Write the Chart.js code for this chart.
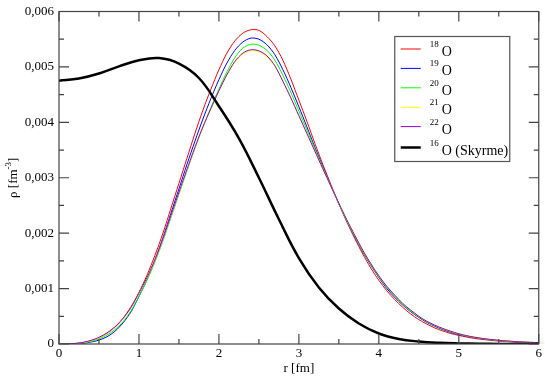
<!DOCTYPE html>
<html>
<head>
<meta charset="utf-8">
<script src="https://cdn.jsdelivr.net/npm/chart.js@4/dist/chart.umd.min.js"></script>
<style>
  html, body { margin: 0; padding: 0; background: #fff; }
  #wrap { width: 545px; height: 376px; position: relative; }
  #probe { position: absolute; left: -9999px; top: 0; font: 13px 'Liberation Serif'; }
</style>
</head>
<body>
<div id="wrap"><canvas id="rho"></canvas></div>
<span id="probe">0,006 r [fm] ρ O (Skyrme)</span>
<script>
// ── Data (densities in units of 1e-3 fm^-3) ─────────────────────
const R_GRID = [
  0.0, 0.1, 0.2, 0.3, 0.4, 0.5, 0.6, 0.7, 0.8, 0.9,
  1.0, 1.1, 1.2, 1.3, 1.4, 1.5, 1.6, 1.7, 1.8, 1.9,
  2.0, 2.1, 2.2, 2.3, 2.4, 2.5, 2.6, 2.7, 2.8, 2.9,
  3.0, 3.1, 3.2, 3.3, 3.4, 3.5, 3.6, 3.7, 3.8, 3.9,
  4.0, 4.1, 4.2, 4.3, 4.4, 4.5, 4.6, 4.7, 4.8, 4.9,
  5.0, 5.1, 5.2, 5.3, 5.4, 5.5, 5.6, 5.7, 5.8, 5.9, 6.0
];

const RHO_18O = [
  0, 0.002, 0.008, 0.025, 0.06, 0.11, 0.19, 0.30, 0.46, 0.67,
  0.93, 1.24, 1.60, 2.00, 2.45, 2.90, 3.35, 3.80, 4.22, 4.60,
  4.95, 5.25, 5.47, 5.61, 5.67, 5.66, 5.55, 5.38, 5.12, 4.78,
  4.40, 4.02, 3.62, 3.24, 2.88, 2.53, 2.20, 1.90, 1.62, 1.37,
  1.15, 0.96, 0.80, 0.66, 0.54, 0.44, 0.36, 0.29, 0.235, 0.19,
  0.155, 0.125, 0.10, 0.082, 0.066, 0.053, 0.043, 0.034, 0.027, 0.022, 0.018
];

const RHO_19O = [
  0, 0.001, 0.003, 0.012, 0.035, 0.07, 0.13, 0.23, 0.38, 0.58,
  0.86, 1.16, 1.52, 1.92, 2.36, 2.80, 3.24, 3.66, 4.06, 4.43,
  4.77, 5.07, 5.30, 5.45, 5.52, 5.50, 5.40, 5.22, 4.95, 4.63,
  4.28, 3.92, 3.55, 3.20, 2.86, 2.53, 2.22, 1.93, 1.66, 1.42,
  1.20, 1.00, 0.84, 0.70, 0.58, 0.48, 0.39, 0.32, 0.26, 0.21,
  0.17, 0.14, 0.114, 0.093, 0.076, 0.062, 0.050, 0.041, 0.033, 0.027, 0.022
];

const RHO_20O = [
  0, 0.002, 0.006, 0.018, 0.045, 0.09, 0.16, 0.26, 0.40, 0.60,
  0.86, 1.15, 1.48, 1.86, 2.28, 2.70, 3.12, 3.53, 3.91, 4.27,
  4.60, 4.91, 5.17, 5.34, 5.41, 5.39, 5.30, 5.12, 4.85, 4.54,
  4.20, 3.86, 3.52, 3.18, 2.85, 2.53, 2.22, 1.94, 1.67, 1.43,
  1.21, 1.02, 0.86, 0.71, 0.59, 0.49, 0.40, 0.33, 0.27, 0.22,
  0.18, 0.145, 0.118, 0.096, 0.079, 0.064, 0.052, 0.042, 0.034, 0.028, 0.023
];

const RHO_21O = [
  0, 0.002, 0.008, 0.026, 0.058, 0.11, 0.19, 0.30, 0.45, 0.65,
  0.91, 1.19, 1.51, 1.89, 2.31, 2.73, 3.14, 3.54, 3.91, 4.24,
  4.56, 4.85, 5.08, 5.23, 5.29, 5.27, 5.18, 5.01, 4.74, 4.44,
  4.12, 3.80, 3.48, 3.16, 2.85, 2.54, 2.24, 1.96, 1.69, 1.45,
  1.23, 1.04, 0.88, 0.73, 0.61, 0.50, 0.41, 0.34, 0.28, 0.23,
  0.185, 0.15, 0.122, 0.10, 0.082, 0.067, 0.055, 0.045, 0.037, 0.030, 0.025
];

const RHO_22O = [
  0, 0.003, 0.010, 0.030, 0.065, 0.12, 0.20, 0.31, 0.46, 0.66,
  0.92, 1.20, 1.52, 1.90, 2.32, 2.74, 3.15, 3.55, 3.92, 4.25,
  4.57, 4.86, 5.10, 5.25, 5.31, 5.29, 5.20, 5.02, 4.74, 4.44,
  4.12, 3.80, 3.48, 3.16, 2.85, 2.54, 2.24, 1.96, 1.69, 1.45,
  1.23, 1.04, 0.88, 0.73, 0.61, 0.50, 0.41, 0.34, 0.28, 0.23,
  0.185, 0.15, 0.122, 0.10, 0.082, 0.067, 0.055, 0.045, 0.037, 0.030, 0.025
];

const R_SKYRME = [
  0, 0.25, 0.5, 0.75, 1.0, 1.25, 1.5, 1.75, 2.0, 2.25, 2.5, 2.75, 3.0,
  3.25, 3.5, 3.75, 4.0, 4.25, 4.5, 4.75, 5.0, 5.25, 5.5, 5.75, 6.0
];
const RHO_16O_SKYRME = [
  4.75, 4.79, 4.88, 5.01, 5.12, 5.16, 5.06, 4.80, 4.29, 3.71, 3.00, 2.25, 1.55,
  1.02, 0.64, 0.37, 0.19, 0.09, 0.045, 0.022, 0.011, 0.005, 0.002, 0.001, 0.0005
];

// ticks
const X_MAJOR = [0, 1, 2, 3, 4, 5, 6];
const X_MINOR = [0.5, 1.5, 2.5, 3.5, 4.5, 5.5];
const Y_MAJOR = [0, 0.001, 0.002, 0.003, 0.004, 0.005, 0.006];
const Y_MINOR = [0.0005, 0.0015, 0.0025, 0.0035, 0.0045, 0.0055];

const SERIF = "'Liberation Serif', serif";

// ── Helpers ─────────────────────────────────────────────────────
function toPoints(xs, ys) {
  return xs.map((x, i) => ({ x: x, y: ys[i] / 1000 }));
}

function series(mass, name, xs, ys, color, width, order, tension) {
  return {
    mass: mass, name: name,
    data: toPoints(xs, ys),
    borderColor: color,
    backgroundColor: color,
    borderWidth: width,
    pointRadius: 0,
    tension: tension,
    fill: false,
    order: order,
  };
}

// frame + inward ticks (xmgrace style)
const framePlugin = {
  id: 'frame',
  afterDatasetsDraw(chart) {
    const { ctx, chartArea: a, scales } = chart;
    ctx.save();
    ctx.strokeStyle = '#444';
    ctx.lineWidth = 1.2;
    ctx.strokeRect(a.left, a.top, a.right - a.left, a.bottom - a.top);
    ctx.beginPath();
    const tick = (vals, len) => {
      vals.forEach(v => {
        const px = scales.x.getPixelForValue(v);
        ctx.moveTo(px, a.bottom); ctx.lineTo(px, a.bottom - len);
        ctx.moveTo(px, a.top); ctx.lineTo(px, a.top + len);
      });
    };
    const tickY = (vals, len) => {
      vals.forEach(v => {
        const py = scales.y.getPixelForValue(v);
        ctx.moveTo(a.left, py); ctx.lineTo(a.left + len, py);
        ctx.moveTo(a.right, py); ctx.lineTo(a.right - len, py);
      });
    };
    tick(X_MAJOR, 10); tick(X_MINOR, 5);
    tickY(Y_MAJOR, 10); tickY(Y_MINOR, 5);
    ctx.stroke();

    // axis titles
    ctx.fillStyle = '#000';
    ctx.textBaseline = 'alphabetic';
    ctx.font = '13px ' + SERIF;
    ctx.textAlign = 'center';
    ctx.fillText('r [fm]', (a.left + a.right) / 2, 372);

    ctx.translate(17, (a.top + a.bottom) / 2);
    ctx.rotate(-Math.PI / 2);
    ctx.textAlign = 'left';
    const base = 'ρ [fm';
    const w1 = ctx.measureText(base).width;
    ctx.font = '9px ' + SERIF;
    const w2 = ctx.measureText('-3').width;
    ctx.font = '13px ' + SERIF;
    const w3 = ctx.measureText(']').width;
    const x0 = -(w1 + w2 + w3) / 2;
    ctx.fillText(base, x0, 0);
    ctx.font = '9px ' + SERIF;
    ctx.fillText('-3', x0 + w1, -6);
    ctx.font = '13px ' + SERIF;
    ctx.fillText(']', x0 + w1 + w2, 0);
    ctx.restore();
  }
};

// boxed legend with superscript mass numbers
const legendPlugin = {
  id: 'boxLegend',
  afterDraw(chart) {
    const { ctx, chartArea: a } = chart;
    const left = a.right - 144, top = a.top + 25;
    const w = 115, h = 125;
    ctx.save();
    ctx.fillStyle = '#fff';
    ctx.fillRect(left, top, w, h);
    ctx.strokeStyle = '#555';
    ctx.lineWidth = 1.2;
    ctx.strokeRect(left, top, w, h);
    chart.data.datasets.forEach((ds, i) => {
      const y = top + 12.5 + i * 19.4 + (i === 5 ? 1.5 : 0);
      ctx.strokeStyle = ds.borderColor;
      ctx.lineWidth = ds.borderWidth;
      ctx.beginPath();
      ctx.moveTo(left + 6, y); ctx.lineTo(left + 26, y);
      ctx.stroke();
      ctx.fillStyle = '#000';
      ctx.textAlign = 'left';
      ctx.font = '9px ' + SERIF;
      ctx.fillText(ds.mass, left + 35, y - 2);
      ctx.font = '14px ' + SERIF;
      ctx.fillText(ds.name, left + 47, y + 7);
    });
    ctx.restore();
  }
};

// ── Build ───────────────────────────────────────────────────────
function build() {
  const datasets = [
    series('18', 'O', R_GRID, RHO_18O, '#ff0000', 1, 5, 0.3),
    series('19', 'O', R_GRID, RHO_19O, '#0000ff', 1, 4, 0.3),
    series('20', 'O', R_GRID, RHO_20O, '#00ff00', 1, 3, 0.3),
    series('21', 'O', R_GRID, RHO_21O, '#ffff00', 1, 2, 0.3),
    series('22', 'O', R_GRID, RHO_22O, '#9400d3', 1, 1, 0.3),
    series('16', 'O (Skyrme)', R_SKYRME, RHO_16O_SKYRME, '#000000', 2.5, 0, 0.4),
  ];

  new Chart(document.getElementById('rho'), {
    type: 'line',
    data: { datasets: datasets },
    options: {
      responsive: true,
      maintainAspectRatio: false,
      animation: false,
      layout: { padding: { top: 0, right: 5 } },
      plugins: { legend: { display: false }, tooltip: { enabled: false } },
      scales: {
        x: {
          type: 'linear',
          min: 0, max: 6,
          grid: { display: false, drawTicks: false },
          border: { display: false },
          ticks: {
            stepSize: 1,
            padding: 3,
            color: '#000',
            font: { family: SERIF, size: 13, lineHeight: 1 },
            maxRotation: 0,
            callback: v => String(v),
          },
          afterFit: s => { s.height = 32; },
        },
        y: {
          min: 0, max: 0.006,
          grid: { display: false, drawTicks: false },
          border: { display: false },
          ticks: {
            stepSize: 0.001,
            padding: 5,
            color: '#000',
            font: { family: SERIF, size: 13, lineHeight: 1 },
            callback: v => v === 0 ? '0' : v.toFixed(3).replace('.', ','),
          },
          afterFit: s => { s.width = 59; },
        },
      },
    },
    plugins: [framePlugin, legendPlugin],
  });
}

document.fonts.load("13px 'Liberation Serif'").then(build, build);
</script>
</body>
</html>
